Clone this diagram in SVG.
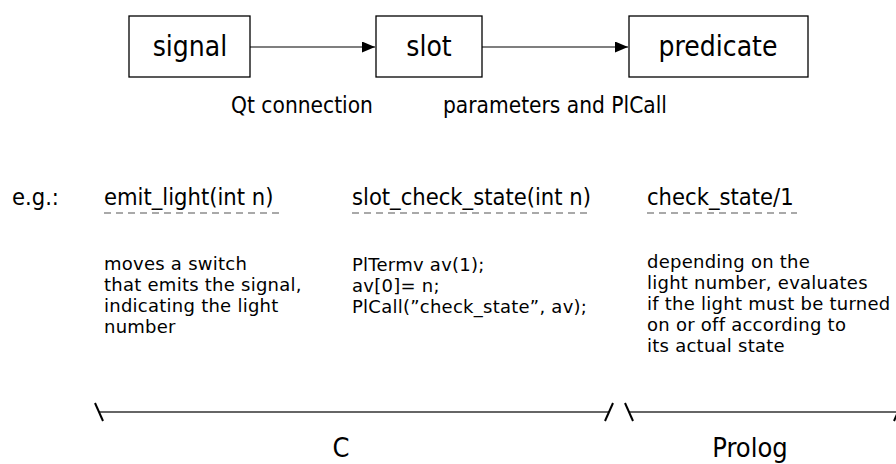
<svg xmlns="http://www.w3.org/2000/svg" width="896" height="464" viewBox="0 0 896 464">
  <style>
    text { font-family: "DejaVu Sans Condensed", "DejaVu Sans", sans-serif; fill: #000; }
    .box { fill: #fff; stroke: #000; stroke-width: 1.3; }
    .boxlabel { font-size: 28px; text-anchor: middle; }
    .caption { font-size: 22.5px; text-anchor: middle; }
    .head { font-size: 23.5px; }
    .body { font-family: "DejaVu Sans", sans-serif; font-size: 18px; letter-spacing: 0.25px; }
    .lang { font-size: 27px; text-anchor: middle; }
    .dash { stroke: #555; stroke-width: 1.2; stroke-dasharray: 7 5; fill: none; }
    .link { stroke: #000; stroke-width: 1.2; fill: none; }
    .span { stroke: #333; stroke-width: 1.5; fill: none; }
    .tick { stroke: #000; stroke-width: 2; fill: none; }
  </style>
  <defs>
    <marker id="arrow" viewBox="0 0 13 11" refX="13" refY="5.5" markerWidth="13" markerHeight="11" markerUnits="userSpaceOnUse" orient="auto">
      <path d="M0,0 L13,5.5 L0,11 Z" fill="#000"/>
    </marker>
  </defs>

  <!-- connectors between the three stages -->
  <g id="connectors">
    <line class="link" x1="250" y1="47" x2="375" y2="47" marker-end="url(#arrow)"/>
    <line class="link" x1="482" y1="47" x2="628" y2="47" marker-end="url(#arrow)"/>
  </g>

  <g id="node-signal">
    <rect class="box" x="129" y="16" width="121" height="61"/>
    <text class="boxlabel" x="190" y="56">signal</text>
  </g>
  <g id="node-slot">
    <rect class="box" x="376" y="16" width="106" height="61"/>
    <text class="boxlabel" x="429" y="56">slot</text>
  </g>
  <g id="node-predicate">
    <rect class="box" x="629" y="16" width="179" height="61"/>
    <text class="boxlabel" x="718" y="56">predicate</text>
  </g>

  <!-- captions under the connectors -->
  <g id="captions">
    <text class="caption" x="302" y="113">Qt connection</text>
    <text class="caption" x="555" y="113">parameters and PlCall</text>
  </g>

  <!-- example column: signal -->
  <g id="example-signal">
    <text class="head" x="12" y="205">e.g.:</text>
    <text class="head" x="104" y="205">emit_light(int n)</text>
    <line class="dash" x1="104" y1="213" x2="284" y2="213"/>
    <text class="body" x="104" y="270">moves a switch</text>
    <text class="body" x="104" y="291">that emits the signal,</text>
    <text class="body" x="104" y="312">indicating the light</text>
    <text class="body" x="104" y="333">number</text>
  </g>

  <!-- example column: slot -->
  <g id="example-slot">
    <text class="head" x="352" y="205">slot_check_state(int n)</text>
    <line class="dash" x1="352" y1="213" x2="592" y2="213"/>
    <text class="body" x="352" y="271">PlTermv av(1);</text>
    <text class="body" x="352" y="292">av[0]= n;</text>
    <text class="body" x="352" y="313">PlCall(”check_state”, av);</text>
  </g>

  <!-- example column: predicate -->
  <g id="example-predicate">
    <text class="head" x="647" y="205">check_state/1</text>
    <line class="dash" x1="647" y1="213" x2="797" y2="213"/>
    <text class="body" x="647" y="268">depending on the</text>
    <text class="body" x="647" y="289">light number, evaluates</text>
    <text class="body" x="647" y="310">if the light must be turned</text>
    <text class="body" x="647" y="331">on or off according to</text>
    <text class="body" x="647" y="352">its actual state</text>
  </g>

  <!-- language spans -->
  <g id="span-c">
    <line class="span" x1="99" y1="412" x2="609" y2="412"/>
    <line class="tick" x1="95" y1="403" x2="103" y2="421"/>
    <line class="tick" x1="613" y1="403" x2="605" y2="421"/>
    <text class="lang" x="341" y="457">C</text>
  </g>
  <g id="span-prolog">
    <line class="span" x1="629" y1="412" x2="896" y2="412"/>
    <line class="tick" x1="625" y1="403" x2="633" y2="421"/>
    <line class="tick" x1="902" y1="403" x2="894" y2="421"/>
    <text class="lang" x="750" y="457">Prolog</text>
  </g>
</svg>
